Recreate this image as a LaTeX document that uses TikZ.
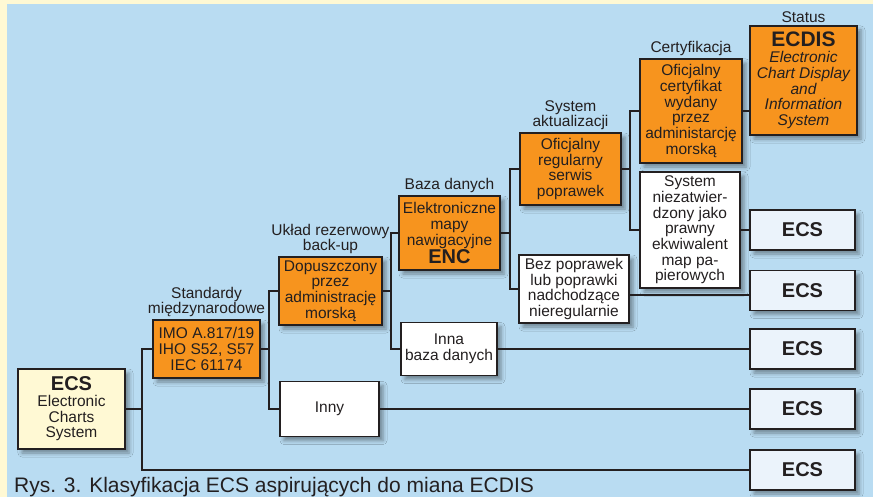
\documentclass[tikz,border=0pt]{standalone}
\usepackage{fontspec}
\setmainfont{Liberation Sans}
\usetikzlibrary{positioning,shadows.blur}
\definecolor{tlo}{RGB}{185,220,242}
\definecolor{ramka}{RGB}{255,249,212}
\definecolor{pomarancz}{RGB}{247,148,30}
\definecolor{jasny}{RGB}{235,243,251}
\definecolor{kreska}{RGB}{35,31,32}
\begin{document}
\begin{tikzpicture}[x=1pt,y=-1pt,
		box/.style={draw=kreska,line width=1.4pt,align=center,inner sep=0pt,text=kreska,
			font=\fontsize{15.5}{15.7}\selectfont,
			blur shadow={shadow xshift=4pt,shadow yshift=-4pt,shadow blur radius=4pt,shadow opacity=40}},
		pbox/.style={box,fill=pomarancz},
		wbox/.style={box,fill=white},
		ecsbox/.style={box,fill=jasny,minimum width=105pt,minimum height=40pt,
			font=\fontsize{20}{22}\selectfont\bfseries},
		opis/.style={align=center,inner sep=1pt,text=kreska,font=\fontsize{15.5}{15.7}\selectfont},
		linia/.style={draw=kreska,line width=1.2pt}]
				\useasboundingbox (0,0) rectangle (873,497);
				\fill[ramka] (0,0) rectangle (873,497);
				\fill[tlo] (7,4) rectangle (873,497);
				\node[box,fill=ramka,minimum width=107pt,minimum height=80pt] (ecs) at (71.5,409) {{\fontsize{20}{22}\selectfont\bfseries ECS}\\Electronic\\Charts\\System};
				\node[pbox,minimum width=107pt,minimum height=58pt] (std) at (206.5,349) {IMO A.817/19\\IHO S52, S57\\IEC 61174};
				\node[pbox,minimum width=103pt,minimum height=68pt] (dop) at (330.5,291) {Dopuszczony\\przez\\administrację\\morską};
				\node[wbox,minimum width=99pt,minimum height=55pt] (inny) at (329.5,409) {Inny};
				\node[pbox,minimum width=101pt,minimum height=74pt] (enc) at (449.5,233) {Elektroniczne\\mapy\\nawigacyjne\\{\fontsize{20}{22}\selectfont\bfseries ENC}};
				\node[wbox,minimum width=96pt,minimum height=53pt] (inna) at (449,349) {Inna\\baza danych};
				\node[pbox,minimum width=101pt,minimum height=72pt] (ofreg) at (570.5,169) {Oficjalny\\regularny\\serwis\\poprawek};
				\node[wbox,minimum width=110pt,minimum height=68pt] (bez) at (574,289) {Bez poprawek\\lub poprawki\\nadchodzące\\nieregularnie};
				\node[pbox,minimum width=102pt,minimum height=104pt] (cert) at (691,111) {Oficjalny\\certyfikat\\wydany\\przez\\administarcję\\morską};
				\node[wbox,minimum width=100pt,minimum height=116pt] (niez) at (690,230) {System\\niezatwier-\\dzony jako\\prawny\\ekwiwalent\\map pa-\\pierowych};
				\node[pbox,minimum width=107pt,minimum height=109pt,font=\fontsize{15.5}{15.7}\selectfont\itshape] (ecdis) at (803.5,80.5) {{\fontsize{21}{22}\selectfont\upshape\bfseries ECDIS}\\Electronic\\Chart Display\\and\\Information\\System};
				\node[ecsbox] (e1) at (802.5,230) {ECS};
				\node[ecsbox] (e2) at (802.5,290.5) {ECS};
				\node[ecsbox] (e3) at (802.5,349) {ECS};
				\node[ecsbox] (e4) at (802.5,409) {ECS};
				\node[ecsbox] (e5) at (802.5,470) {ECS};
				\node[opis,above=1pt of std] (lstd) {Standardy\\międzynarodowe};
				\node[opis,above=1pt of dop] (ldop) {Układ rezerwowy\\back-up};
				\node[opis,above=1pt of enc] (lenc) {Baza danych};
				\node[opis,above=1pt of ofreg] (lofreg) {System\\aktualizacji};
				\node[opis,above=1pt of cert] (lcert) {Certyfikacja};
				\node[opis,above=1pt of ecdis] (lecdis) {Status};
				\node[anchor=base west,inner sep=0pt,text=kreska,font=\fontsize{21}{24}\selectfont] (podpis) at (14,492) {Rys. 3. Klasyfikacja ECS aspirujących do miana ECDIS};
				\coordinate (w1) at (142,409);
				\coordinate (w2) at (269,349);
				\coordinate (w3) at (391,291);
				\coordinate (w4) at (510,233);
				\coordinate (w5) at (630,169);
				\draw[linia] (ecs.east) -- (w1);
				\draw[linia] (std.west) -| (w1) |- (e5.west);
				\draw[linia] (std.east) -- (w2);
				\draw[linia] (dop.west) -| (w2) |- (inny.west);
				\draw[linia] (inny.east) -- (e4.west);
				\draw[linia] (dop.east) -- (w3);
				\draw[linia] (enc.west) -| (w3) |- (inna.west);
				\draw[linia] (inna.east) -- (e3.west);
				\draw[linia] (enc.east) -- (w4);
				\draw[linia] (ofreg.west) -| (w4) |- (bez.west);
				\draw[linia] ([yshift=-6pt]bez.east) -- ([yshift=-6pt]bez.east -| e2.west);
				\draw[linia] (ofreg.east) -- (w5);
				\draw[linia] (cert.west) -| (w5) |- (niez.west);
				\draw[linia] (cert.east) -- (cert.east -| ecdis.west);
				\draw[linia] (niez.east) -- (e1.west);
\end{tikzpicture}
\end{document}
